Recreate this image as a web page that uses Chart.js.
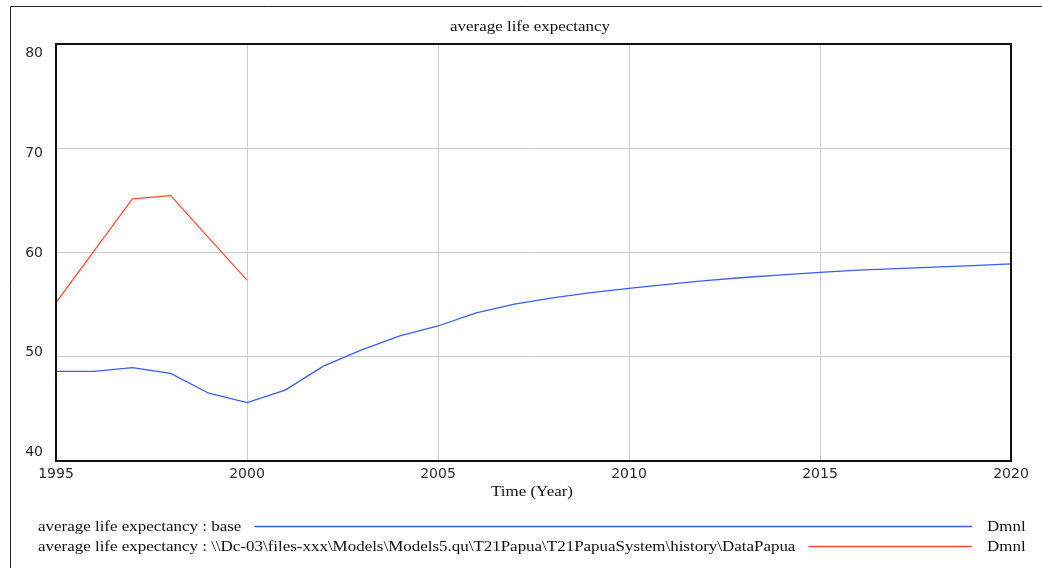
<!DOCTYPE html>
<html>
<head>
<meta charset="utf-8">
<script src="https://cdn.jsdelivr.net/npm/chart.js@4.4.1/dist/chart.umd.min.js"></script>
<style>
  html, body { margin: 0; padding: 0; background: #ffffff; }
  #wrap { width: 1042px; height: 571px; }
</style>
</head>
<body>
<div id="wrap"><canvas id="c" width="1042" height="571"></canvas></div>
<script>
// Simulated run ("base") – yearly values
const baseYears = [1995, 1996, 1997, 1998, 1999, 2000, 2001, 2002, 2003, 2004, 2005, 2006, 2007,
                   2008, 2009, 2010, 2011, 2012, 2013, 2014, 2015, 2016, 2017, 2018, 2019, 2020];
const baseValues = [48.6, 48.6, 48.95, 48.4, 46.5, 45.6, 46.8, 49.1, 50.65, 52.0, 52.95, 54.2, 55.05,
                    55.65, 56.15, 56.55, 56.95, 57.3, 57.6, 57.85, 58.1, 58.3, 58.45, 58.6, 58.75, 58.9];

// Historical data series (DataPapua)
const dataYears = [1995, 1997, 1998, 2000];
const dataValues = [55.2, 65.15, 65.45, 57.35];

// Axis ticks
const xTicks = [1995, 2000, 2005, 2010, 2015, 2020];
const yTicks = [40, 50, 60, 70, 80];

const chartTitle = 'average life expectancy';
const xTitle = 'Time (Year)';
const unitLabel = 'Dmnl';
const seriesLabels = [
  'average life expectancy : base',
  'average life expectancy : \\\\Dc-03\\files-xxx\\Models\\Models5.qu\\T21Papua\\T21PapuaSystem\\history\\DataPapua'
];

const BLUE = '#3a5cff';
const RED = '#ff4b32';
const SERIF = '"Liberation Serif", "Times New Roman", serif';
const SANS = '"DejaVu Sans", Verdana, sans-serif';
const SERIF_STRETCH = 1.13;

// draws serif text slightly widened; returns the drawn width
function wideText(ctx, text, x, y, align) {
  const w = ctx.measureText(text).width * SERIF_STRETCH;
  let left = x;
  if (align === 'center') left = x - w / 2;
  ctx.save();
  ctx.textAlign = 'left';
  ctx.translate(left, y);
  ctx.scale(SERIF_STRETCH, 1);
  ctx.fillText(text, 0, 0);
  ctx.restore();
  return w;
}

const decorations = {
  id: 'decorations',
  afterDraw(chart) {
    const ctx = chart.ctx;
    const a = chart.chartArea;
    const xs = chart.scales.x, ys = chart.scales.y;
    ctx.save();

    // outer frame
    ctx.strokeStyle = '#222';
    ctx.lineWidth = 1;
    ctx.beginPath();
    ctx.moveTo(10.5, 568);
    ctx.lineTo(10.5, 6.5);
    ctx.lineTo(1042, 6.5);
    ctx.stroke();

    // plot frame
    ctx.strokeStyle = '#111';
    ctx.lineWidth = 2;
    ctx.strokeRect(a.left, a.top, a.right - a.left, a.bottom - a.top);

    // title
    ctx.fillStyle = '#111';
    ctx.font = '15px ' + SERIF;
    ctx.textBaseline = 'middle';
    wideText(ctx, chartTitle, 530, 27, 'center');

    // y tick labels, spread inside the plot height
    ctx.font = '14px ' + SANS;
    ctx.fillStyle = '#2b2b2b';
    ctx.textAlign = 'right';
    const h = a.bottom - a.top;
    yTicks.forEach(v => {
      const p = ys.getPixelForValue(v);
      const ly = a.top + 9.5 + (p - a.top) * (h - 18) / h;
      ctx.fillText(String(v), 43, ly);
    });

    // x tick labels
    ctx.textAlign = 'center';
    xTicks.forEach(v => {
      ctx.fillText(String(v), xs.getPixelForValue(v), 474);
    });

    // x axis title
    ctx.font = '15px ' + SERIF;
    ctx.fillStyle = '#111';
    wideText(ctx, xTitle, 532, 492, 'center');

    // legend rows
    const rows = [
      { text: seriesLabels[0], color: BLUE, y: 527 },
      { text: seriesLabels[1], color: RED, y: 547 }
    ];
    rows.forEach(r => {
      ctx.fillStyle = '#111';
      const w = wideText(ctx, r.text, 38, r.y, 'left');
      const end = 38 + w;
      ctx.strokeStyle = r.color;
      ctx.lineWidth = 1.5;
      ctx.beginPath();
      ctx.moveTo(end + 13, r.y - 0.5);
      ctx.lineTo(972, r.y - 0.5);
      ctx.stroke();
      wideText(ctx, unitLabel, 987, r.y, 'left');
    });

    ctx.restore();
  }
};

new Chart(document.getElementById('c'), {
  type: 'line',
  data: {
    datasets: [
      {
        label: seriesLabels[0],
        data: baseYears.map((x, i) => ({ x, y: baseValues[i] })),
        borderColor: BLUE,
        borderWidth: 1.3,
        pointRadius: 0,
        tension: 0
      },
      {
        label: seriesLabels[1],
        data: dataYears.map((x, i) => ({ x, y: dataValues[i] })),
        borderColor: RED,
        borderWidth: 1.2,
        pointRadius: 0,
        tension: 0
      }
    ]
  },
  options: {
    responsive: false,
    animation: false,
    layout: { padding: { left: 56, top: 44, right: 31, bottom: 110 } },
    plugins: {
      legend: { display: false },
      tooltip: { enabled: false },
      title: { display: false }
    },
    scales: {
      x: {
        type: 'linear',
        min: 1995,
        max: 2020,
        afterBuildTicks: s => { s.ticks = xTicks.map(v => ({ value: v })); },
        ticks: { display: false },
        grid: { color: '#cdcdcd', lineWidth: 1, drawTicks: false },
        border: { display: false }
      },
      y: {
        min: 40,
        max: 80,
        afterBuildTicks: s => { s.ticks = yTicks.map(v => ({ value: v })); },
        ticks: { display: false },
        grid: { color: '#cdcdcd', lineWidth: 1, drawTicks: false },
        border: { display: false }
      }
    }
  },
  plugins: [decorations]
});
</script>
</body>
</html>
